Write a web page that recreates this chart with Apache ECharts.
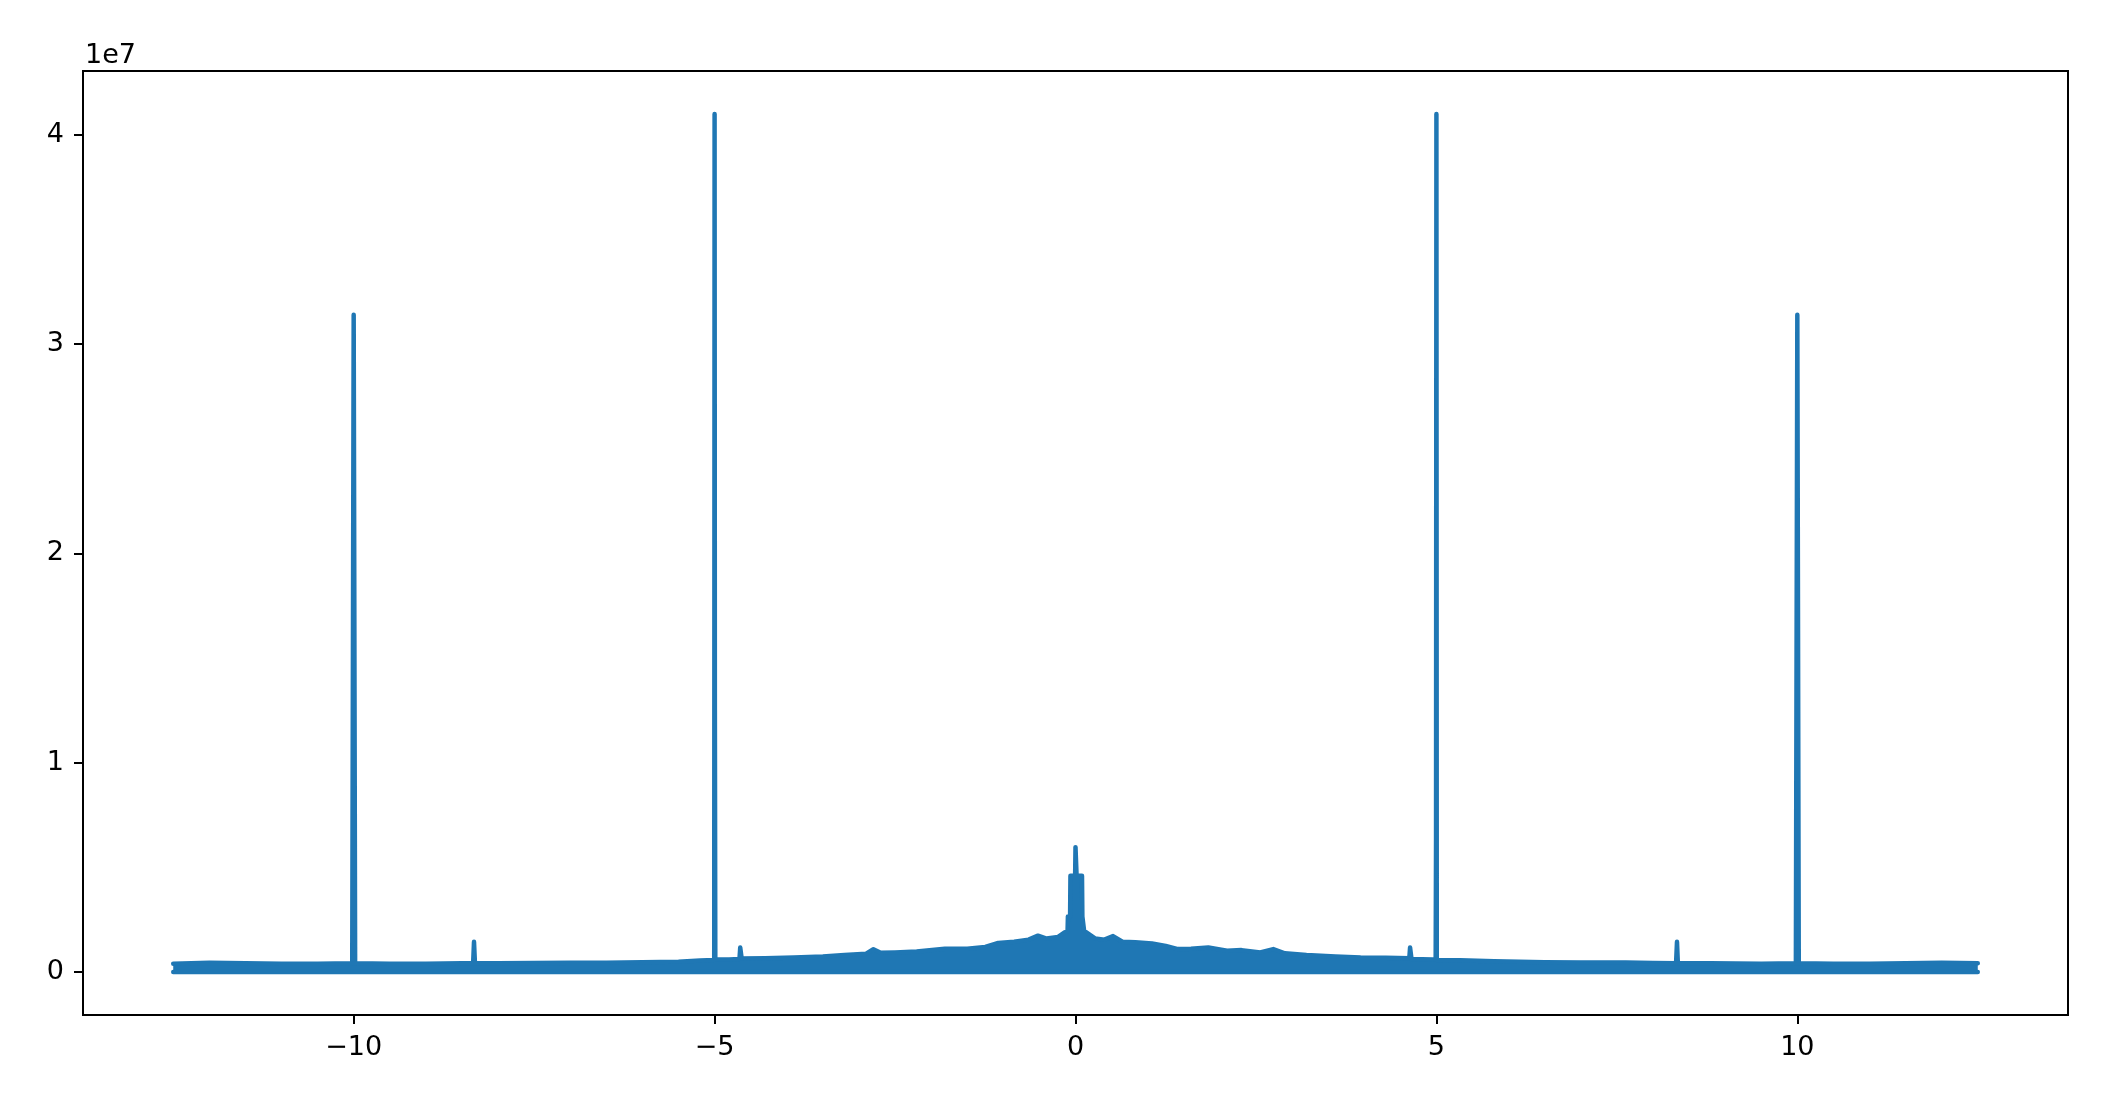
<!DOCTYPE html>
<html>
<head>
<meta charset="utf-8">
<style>
  html, body { margin: 0; padding: 0; background: #ffffff; }
  #chart { width: 2110px; height: 1120px; }
</style>
<script src="https://cdn.jsdelivr.net/npm/echarts@6/dist/echarts.min.js"></script>
</head>
<body>
<div id="chart"></div>
<script>
// Frequency (x) and spectrum magnitude upper envelope (y)
const freq = [
  -12.5, -12.0, -11.5, -11.0, -10.5, -10.02, -10.0, -9.98, -9.5, -9.0, -8.5,
  -8.345, -8.333, -8.32, -8.0, -7.5, -7.0, -6.5, -6.0, -5.5, -5.2, -5.005,
  -5.0, -4.996, -4.993, -4.99, -4.8, -4.655, -4.645, -4.635, -4.625, -4.3,
  -3.9, -3.5, -3.2, -2.9, -2.8, -2.78, -2.7, -2.5, -2.2, -1.81, -1.5, -1.25,
  -1.07, -0.85, -0.65, -0.52, -0.4, -0.24, -0.15, -0.11, -0.105, -0.075, -0.07,
  -0.005, 0.0, 0.01, 0.015, 0.09, 0.095, 0.115, 0.12, 0.15, 0.27, 0.4, 0.52,
  0.65, 0.83, 1.06, 1.25, 1.42, 1.6, 1.84, 2.1, 2.3, 2.56, 2.74, 2.76, 2.9,
  3.2, 3.6, 3.95, 4.3, 4.625, 4.635, 4.645, 4.655, 4.95, 4.99, 4.995, 5.0,
  5.005, 5.33, 5.8, 6.5, 7.0, 7.62, 8.0, 8.32, 8.333, 8.345, 8.8, 9.5, 9.98,
  10.0, 10.02, 10.5, 11.0, 11.5, 12.0, 12.5
];
const magnitude = [
  4.0e5, 4.5e5, 4.2e5, 4.0e5, 4.0e5, 4.2e5, 3.14e7, 4.2e5, 4.0e5, 4.0e5, 4.2e5,
  4.2e5, 1.45e6, 4.2e5, 4.2e5, 4.3e5, 4.5e5, 4.5e5, 4.7e5, 5.0e5, 5.5e5, 5.8e5,
  4.1e7, 1.25e7, 1.25e7, 6.0e5, 6.0e5, 6.2e5, 1.17e6, 1.17e6, 6.5e5, 6.6e5,
  7.0e5, 7.5e5, 8.2e5, 8.8e5, 1.09e6, 1.09e6, 9.2e5, 9.4e5, 9.8e5, 1.12e6, 1.12e6, 1.2e6,
  1.39e6, 1.45e6, 1.55e6, 1.74e6, 1.6e6, 1.68e6, 1.9e6, 1.95e6, 2.66e6, 2.66e6, 4.6e6,
  4.6e6, 5.97e6, 5.97e6, 4.6e6, 4.6e6, 2.66e6, 2.66e6, 1.95e6, 1.9e6, 1.61e6, 1.55e6, 1.72e6,
  1.45e6, 1.42e6, 1.37e6, 1.25e6, 1.1e6, 1.12e6, 1.18e6, 1.02e6, 1.05e6, 9.4e5, 1.1e6, 1.1e6, 9.0e5,
  8.2e5, 7.5e5, 7.0e5, 6.8e5, 6.6e5, 1.17e6, 1.17e6, 6.2e5, 6.0e5, 6.0e5, 6.3e6, 4.1e7,
  5.8e5, 5.6e5, 5.2e5, 4.7e5, 4.6e5, 4.6e5, 4.3e5, 4.2e5, 1.45e6, 4.2e5, 4.2e5, 4.0e5, 4.2e5,
  3.14e7, 4.2e5, 4.0e5, 4.0e5, 4.2e5, 4.5e5, 4.2e5
];
// Lower edge of the dense noise band
const floorFreq = [-12.5, 12.5];
const floorMagnitude = [0, 0];

const xTickValues = [-10, -5, 0, 5, 10];
const xTickLabels = ['\u221210', '\u22125', '0', '5', '10'];
const yTickValues = [0, 1e7, 2e7, 3e7, 4e7];
const yTickLabels = ['0', '1', '2', '3', '4'];
const yOffsetText = '1e7';

const color = '#1f77b4';
const font = 'DejaVu Sans';

const envelope = freq.map((f, i) => [f, magnitude[i]]);
const floor = floorFreq.map((f, i) => [f, floorMagnitude[i]]);

const chart = echarts.init(document.getElementById('chart'), null, { renderer: 'canvas' });
chart.setOption({
  animation: false,
  backgroundColor: '#ffffff',
  grid: {
    left: 83, right: 42, top: 71, bottom: 105,
    show: true, borderColor: '#000000', borderWidth: 2,
    outerBoundsMode: 'none'
  },
  xAxis: {
    type: 'value',
    min: -13.75, max: 13.75,
    axisLine: { show: true, onZero: false, lineStyle: { color: '#000', width: 2 } },
    axisTick: { show: true, length: 9, customValues: xTickValues, lineStyle: { color: '#000', width: 2 } },
    axisLabel: {
      customValues: xTickValues,
      formatter: v => xTickLabels[xTickValues.indexOf(v)],
      color: '#000', fontFamily: font, fontSize: 27, margin: 19
    },
    splitLine: { show: false }
  },
  yAxis: {
    type: 'value',
    min: -2.05e6, max: 4.305e7,
    axisLine: { show: true, onZero: false, lineStyle: { color: '#000', width: 2 } },
    axisTick: { show: true, length: 9, customValues: yTickValues, lineStyle: { color: '#000', width: 2 } },
    axisLabel: {
      customValues: yTickValues,
      formatter: v => yTickLabels[yTickValues.indexOf(v)],
      color: '#000', fontFamily: font, fontSize: 27, margin: 19
    },
    splitLine: { show: false }
  },
  graphic: [{
    type: 'text', left: 85, top: 42,
    style: { text: yOffsetText, fill: '#000', font: '27px "DejaVu Sans"' }
  }],
  series: [
    {
      type: 'line', data: floor, showSymbol: false, symbol: 'none',
      lineStyle: { color: color, width: 4.5, cap: 'round' }, silent: true
    },
    {
      type: 'line', data: envelope, showSymbol: false, symbol: 'none',
      lineStyle: { color: color, width: 4.5, cap: 'round', join: 'round' },
      areaStyle: { color: color, opacity: 1, origin: 0 },
      silent: true
    }
  ]
});
</script>
</body>
</html>
